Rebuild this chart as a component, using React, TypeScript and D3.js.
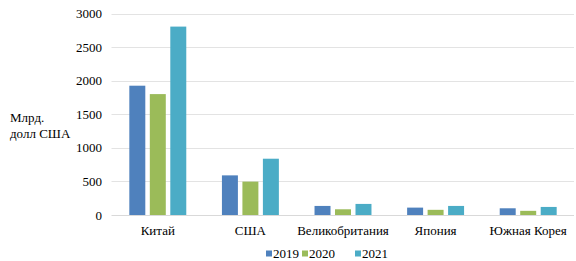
import React from "react";
import * as d3 from "d3";

const categories = ["Китай", "США", "Великобритания", "Япония", "Южная Корея"];
const seriesNames = ["2019", "2020", "2021"];
const values2019 = [1925, 590, 135, 110, 100];
const values2020 = [1800, 497, 85, 77, 62];
const values2021 = [2805, 838, 165, 135, 120];
const yTicks = [0, 500, 1000, 1500, 2000, 2500, 3000];
const colors = ["#4F81BD", "#9BBB59", "#4BACC6"];

const W = 576;
const H = 261;

const css = `
svg.chart text { font-family: 'Liberation Serif', 'Times New Roman', Tinos, serif !important; font-size: 13px; fill: #000; }
`;

export default function App() {
  const series = [values2019, values2020, values2021];
  const x0 = d3.scaleBand<string>().domain(categories).range([111.5, 574.5]).paddingInner(0.385).paddingOuter(0.1925);
  const x1 = d3.scaleBand<string>().domain(seriesNames).range([0, x0.bandwidth()]).paddingInner(0.22).paddingOuter(0);
  const y = d3.scaleLinear().domain([0, 3000]).range([215, 13.5]);

  const legendX = [266, 302, 355];

  return (
    <div style={{ position: "absolute", left: 0, top: 0, fontFamily: "'Liberation Serif', serif" }}>
      <style>{css}</style>
      <svg className="chart" width={W} height={H} style={{ display: "block" }}>
        <rect width={W} height={H} fill="#fff" />
        {yTicks.map((t) => (
          <g key={t}>
            <line x1={111.5} x2={574} y1={Math.round(y(t)) + 0.5} y2={Math.round(y(t)) + 0.5} stroke={t === 0 ? "#d9d9d9" : "#e3e3e3"} strokeWidth={1} />
            <text x={102} y={y(t) + 4.5} textAnchor="end">{t}</text>
          </g>
        ))}
        {categories.map((c, i) => (
          <g key={c} transform={`translate(${x0(c)},0)`}>
            {seriesNames.map((s, j) => (
              <rect key={s} x={x1(s)} y={y(series[j][i])} width={x1.bandwidth()} height={y(0) - y(series[j][i])} fill={colors[j]} />
            ))}
            <text x={x0.bandwidth() / 2} y={235} textAnchor="middle">{c}</text>
          </g>
        ))}
        <text x={10} y={121.5}>Млрд.</text>
        <text x={10} y={137.5}>долл США</text>
        {seriesNames.map((s, j) => (
          <g key={s}>
            <rect x={legendX[j]} y={250.5} width={6} height={6} fill={colors[j]} />
            <text x={legendX[j] + 7} y={258}>{s}</text>
          </g>
        ))}
      </svg>
    </div>
  );
}
